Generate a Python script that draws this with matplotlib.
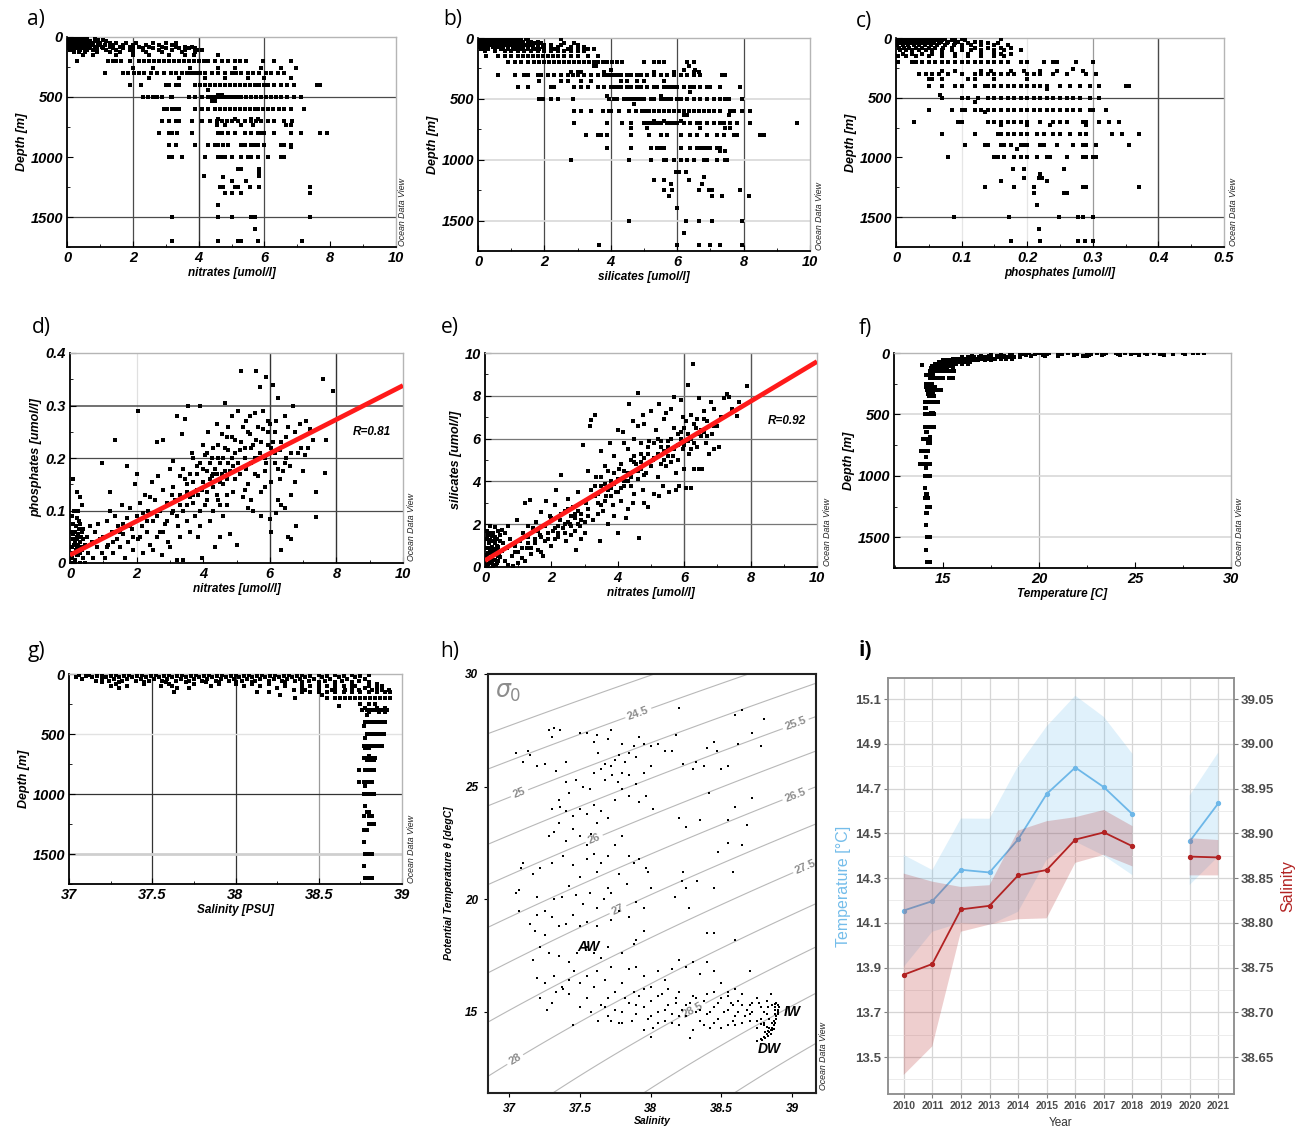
import numpy as np
import matplotlib
matplotlib.use('Agg')
import matplotlib.pyplot as plt
from matplotlib.ticker import MultipleLocator, FixedLocator

W, H = 1295, 1126

# ---------------- a) nitrates vs depth ----------------
a_depths = [5, 15, 25, 35, 50, 65, 80, 95, 110, 125, 150, 200, 260, 300, 340, 400, 440,
            480, 500, 530, 600, 680, 700, 730, 800, 900, 920, 1000, 1100, 1130, 1160, 1170,
            1200, 1250, 1300, 1400, 1500, 1600, 1700]
a_nitrates = [
    [0.02, 0.08, 0.15, 0.22, 0.3, 0.38, 0.45, 0.55],
    [0.03, 0.1, 0.18, 0.25, 0.33, 0.42, 0.5, 0.6, 0.85],
    [0.05, 0.12, 0.2, 0.28, 0.36, 0.45, 0.58, 0.95, 1.1],
    [0.02, 0.09, 0.17, 0.24, 0.32, 0.4, 0.52, 0.7, 0.9, 1.2],
    [0.04, 0.11, 0.19, 0.27, 0.35, 0.44, 0.55, 0.68, 0.8, 1.0, 1.3, 1.5, 1.8, 2.1, 2.6, 3.0, 3.3],
    [0.03, 0.1, 0.18, 0.26, 0.34, 0.46, 0.6, 0.75, 0.95, 1.15, 1.4, 1.7, 2.0, 2.4, 2.8, 3.2],
    [0.05, 0.13, 0.21, 0.3, 0.4, 0.52, 0.65, 0.85, 1.05, 1.3, 1.6, 1.9, 2.2, 2.5, 2.9, 3.3, 3.6, 3.8],
    [0.06, 0.15, 0.25, 0.35, 0.5, 0.7, 0.9, 1.1, 1.4, 1.7, 2.0, 2.3, 2.6, 3.0, 3.4, 3.7, 3.9],
    [0.1, 0.22, 0.4, 0.6, 0.8, 1.2, 1.5, 1.9, 2.3, 2.8, 3.2, 3.6, 3.95, 4.1],
    [0.2, 0.35, 0.55, 0.9, 1.3, 1.6, 2.0, 2.4, 2.9, 3.5, 3.9],
    [0.5, 0.8, 1.5, 2.0, 2.5, 3.1, 3.6, 3.85, 4.6],
    [0.3, 1.25, 1.4, 1.5, 1.65, 1.9, 2.2, 2.35, 2.5, 2.65, 2.8, 2.95, 3.1, 3.25, 3.4, 3.55, 3.7,
     3.85, 4.0, 4.15, 4.3, 4.5, 4.7, 4.9, 5.1, 5.25, 5.45, 5.95, 6.3, 6.8],
    [2.0, 2.6, 3.75, 4.6, 5.1, 5.9, 6.5, 6.95],
    [1.15, 1.7, 1.85, 2.05, 2.2, 2.35, 2.55, 2.75, 2.95, 3.15, 3.3, 3.5, 3.65, 3.75, 3.85, 3.95,
     4.05, 4.2, 4.4, 4.6, 4.8, 5.0, 5.15, 5.3, 5.5, 5.65, 5.85, 6.05, 6.2, 6.4, 6.6],
    [2.5, 3.4, 4.2, 4.8, 5.5, 6.0, 6.8],
    [1.9, 2.25, 3.0, 3.1, 3.3, 3.4, 3.9, 4.05, 4.2, 4.35, 4.5, 4.65, 4.8, 4.95, 5.1, 5.25, 5.4,
     5.55, 5.7, 5.85, 6.0, 6.1, 6.3, 6.5, 6.7, 6.9, 7.6, 7.7],
    [4.3],
    [4.6, 4.7],
    [2.3, 2.45, 2.6, 2.75, 2.9, 3.15, 3.2, 3.7, 3.9, 4.1, 4.3, 4.4, 4.5, 4.6, 4.7, 4.8, 4.9, 5.0,
     5.1, 5.2, 5.3, 5.45, 5.6, 5.75, 5.9, 6.05, 6.2, 6.35, 6.5, 6.7, 6.9, 7.1],
    [4.4, 4.5],
    [2.95, 3.05, 3.2, 3.3, 3.4, 3.9, 4.1, 4.3, 4.5, 4.65, 4.8, 4.95, 5.1, 5.25, 5.4, 5.55, 5.7,
     5.8, 5.95, 6.1, 6.25, 6.45, 6.6, 6.8, 7.2],
    [4.6, 5.1, 5.6, 5.8],
    [2.9, 3.1, 3.3, 3.4, 3.8, 4.1, 4.35, 4.55, 4.7, 4.85, 5.0, 5.2, 5.4, 5.6, 5.75, 5.9, 6.1,
     6.3, 6.6, 6.85],
    [4.55, 4.8, 5.3, 5.65, 6.65, 6.8],
    [2.8, 3.1, 3.2, 3.35, 3.8, 4.6, 4.7, 4.9, 5.1, 5.4, 5.6, 5.8, 5.9, 6.0, 6.3, 6.8, 7.1, 7.7, 7.9],
    [3.1, 3.3, 3.9, 4.3, 4.5, 4.6, 4.75, 4.9, 5.3, 5.4, 5.6, 5.7, 5.8, 6.0, 6.5, 6.6, 6.8],
    [6.8],
    [3.1, 3.2, 3.5, 4.2, 4.6, 4.7, 4.8, 5.0, 5.3, 5.5, 5.6, 5.8, 6.1, 6.5, 6.6],
    [5.2, 5.3, 5.85], [5.85], [4.15, 5.85], [4.75], [5.0, 5.45],
    [4.65, 4.75, 5.1, 5.2, 5.55, 5.85, 7.4], [4.8, 5.0, 5.3, 7.4], [4.6],
    [3.2, 4.6, 5.0, 5.6, 5.7, 7.4], [5.7], [3.2, 4.6, 5.2, 5.3, 5.8, 7.15],
]

# ---------------- b) silicates vs depth ----------------
b_depths = [5, 15, 30, 45, 60, 75, 90, 110, 150, 200, 230, 260, 280, 300, 350, 400, 440, 480,
            500, 540, 600, 630, 680, 700, 740, 800, 900, 930, 1000, 1100, 1140, 1170, 1200,
            1250, 1300, 1400, 1500, 1600, 1700]
b_silicates = [
    [0.05, 0.15, 0.25, 0.35, 0.45, 0.55, 0.65, 0.75, 0.85, 0.95, 1.05, 1.15, 1.3, 1.45, 2.5],
    [0.02, 0.12, 0.22, 0.32, 0.42, 0.52, 0.62, 0.72, 0.82, 0.92, 1.02, 1.12, 1.25, 1.5],
    [0.08, 0.18, 0.28, 0.38, 0.48, 0.58, 0.68, 0.78, 0.88, 0.98, 1.1, 1.2, 1.35, 1.6, 1.8],
    [0.05, 0.15, 0.25, 0.35, 0.45, 0.55, 0.65, 0.75, 0.85, 0.95, 1.05, 1.15, 1.3, 1.5, 1.7, 1.9,
     2.6, 2.9],
    [0.1, 0.2, 0.3, 0.4, 0.5, 0.6, 0.7, 0.8, 0.9, 1.0, 1.1, 1.25, 1.4, 1.6, 1.8, 2.0, 2.2, 2.5, 3.0],
    [0.05, 0.18, 0.3, 0.45, 0.6, 0.75, 0.9, 1.05, 1.2, 1.35, 1.5, 1.65, 1.8, 1.95, 2.2, 2.4, 2.8, 3.2],
    [0.1, 0.3, 0.5, 0.7, 0.9, 1.1, 1.3, 1.5, 1.7, 1.85, 2.0, 2.3, 2.7, 3.0, 3.3, 3.5],
    [0.2, 0.5, 0.8, 1.0, 1.2, 1.4, 1.6, 1.8, 2.0, 2.2, 2.4, 2.6, 2.8, 3.0, 3.2],
    [0.25, 0.6, 0.8, 1.0, 1.2, 1.35, 1.5, 1.65, 1.8, 1.95, 2.1, 2.25, 2.4, 2.6, 2.8, 3.0, 3.3, 3.6],
    [0.9, 1.1, 1.3, 1.5, 1.7, 1.85, 2.0, 2.15, 2.3, 2.45, 2.6, 2.75, 2.9, 3.05, 3.2, 3.35, 3.5,
     3.6, 3.75, 3.9, 4.05, 4.2, 4.35, 5.0, 5.3, 5.45, 5.6, 6.3, 6.5],
    [3.5, 3.55, 6.35],
    [4.0, 6.2, 6.55],
    [2.8, 3.0, 3.1, 3.8, 5.3, 5.9, 6.5, 6.65],
    [0.6, 1.1, 1.4, 1.5, 1.8, 1.9, 2.1, 2.3, 2.5, 2.7, 2.85, 3.0, 3.2, 3.4, 3.6, 3.8, 3.9, 4.0,
     4.1, 4.2, 4.3, 4.5, 4.6, 4.8, 4.9, 5.1, 5.3, 5.5, 5.7, 5.9, 6.1, 6.3, 6.5, 6.7, 7.35, 7.45],
    [1.85, 2.5, 2.7, 3.1, 3.4, 4.3, 4.5, 4.8, 5.0, 5.6],
    [1.2, 1.5, 2.2, 2.3, 2.9, 3.1, 3.3, 3.6, 3.8, 4.0, 4.1, 4.2, 4.3, 4.5, 4.6, 4.8, 4.9, 5.1,
     5.3, 5.4, 5.6, 5.7, 5.8, 5.9, 6.0, 6.2, 6.4, 6.5, 6.7, 6.9, 7.0, 7.3, 7.9],
    [6.4],
    [3.9, 5.5],
    [1.85, 1.95, 2.2, 2.4, 2.85, 3.95, 4.1, 4.2, 4.4, 4.5, 4.6, 4.7, 4.8, 4.9, 5.0, 5.2, 5.3,
     5.5, 5.6, 5.7, 5.8, 6.0, 6.1, 6.3, 6.5, 6.7, 6.9, 7.1, 7.3, 7.45, 7.55, 7.95],
    [4.7],
    [2.9, 3.1, 3.4, 3.75, 3.95, 4.0, 4.25, 4.55, 4.75, 4.95, 5.05, 5.15, 5.3, 5.45, 5.6, 5.75,
     5.9, 6.05, 6.2, 6.35, 6.5, 6.65, 6.8, 6.95, 7.1, 7.3, 7.6, 7.7, 7.95, 8.2],
    [6.2, 6.3, 7.55],
    [5.3, 5.6, 6.1],
    [2.9, 3.9, 4.35, 4.6, 5.0, 5.1, 5.2, 5.3, 5.4, 5.5, 5.7, 5.8, 5.9, 6.0, 6.2, 6.4, 6.6, 6.7,
     6.9, 7.1, 7.3, 7.4, 7.6, 7.8, 8.2, 9.6],
    [4.6, 5.1, 6.7, 7.45, 7.6],
    [3.25, 3.6, 3.7, 3.9, 4.6, 5.15, 5.5, 5.7, 6.1, 6.4, 6.6, 6.9, 7.2, 7.4, 7.7, 7.8, 8.5, 8.6],
    [3.9, 4.6, 5.2, 5.4, 5.5, 5.6, 6.1, 6.4, 6.6, 6.7, 6.8, 6.9, 7.0, 7.2, 7.3],
    [7.3, 7.45],
    [2.8, 4.55, 5.2, 5.6, 5.65, 5.9, 6.1, 6.3, 6.5, 6.8, 6.9, 7.2, 7.45, 7.5],
    [5.95, 6.05, 6.25], [6.8], [5.3, 5.6, 6.35], [5.8, 6.75],
    [5.6, 5.85, 6.65, 6.95, 7.05, 7.9], [5.75, 7.05, 7.35, 8.15], [6.0],
    [4.55, 6.25, 6.65, 7.05, 7.95], [6.2], [3.65, 6.0, 6.65, 7.0, 7.3, 7.95],
]

# ---------------- c) phosphates vs depth ----------------
c_depths = [5, 15, 30, 45, 60, 80, 100, 130, 150, 200, 260, 280, 300, 340, 400, 430, 480, 500,
            540, 600, 620, 700, 730, 800, 900, 930, 1000, 1100, 1140, 1170, 1200, 1250, 1300,
            1400, 1500, 1600, 1700]
c_phosphates = [
    [0.002, 0.008, 0.015, 0.022, 0.03, 0.038, 0.046, 0.055, 0.065, 0.075, 0.09, 0.1, 0.16],
    [0.004, 0.012, 0.02, 0.028, 0.036, 0.044, 0.052, 0.06, 0.07, 0.085, 0.105],
    [0.003, 0.01, 0.018, 0.026, 0.034, 0.042, 0.05, 0.058, 0.068, 0.08, 0.095, 0.12, 0.13],
    [0.005, 0.013, 0.021, 0.03, 0.038, 0.047, 0.056, 0.066, 0.078, 0.09, 0.11, 0.14, 0.155],
    [0.002, 0.01, 0.018, 0.027, 0.035, 0.044, 0.053, 0.063, 0.075, 0.088, 0.1, 0.115, 0.13, 0.15, 0.17],
    [0.004, 0.012, 0.02, 0.03, 0.04, 0.05, 0.06, 0.072, 0.085, 0.1, 0.12, 0.14, 0.16, 0.175],
    [0.006, 0.015, 0.025, 0.035, 0.045, 0.055, 0.07, 0.085, 0.1, 0.115, 0.13, 0.15, 0.165, 0.19],
    [0.01, 0.025, 0.04, 0.055, 0.07, 0.09, 0.11, 0.13, 0.15, 0.16, 0.175],
    [0.003, 0.015, 0.03, 0.05, 0.07, 0.09, 0.11, 0.13, 0.15, 0.165],
    [0.003, 0.025, 0.03, 0.04, 0.05, 0.06, 0.07, 0.08, 0.09, 0.1, 0.11, 0.12, 0.13, 0.14, 0.15,
     0.16, 0.17, 0.19, 0.2, 0.225, 0.24, 0.245, 0.275, 0.3],
    [0.27],
    [0.07, 0.09, 0.13, 0.145, 0.175, 0.195, 0.22, 0.245, 0.285],
    [0.035, 0.045, 0.055, 0.065, 0.08, 0.1, 0.12, 0.13, 0.14, 0.15, 0.16, 0.17, 0.18, 0.2, 0.21,
     0.22, 0.24, 0.26, 0.29, 0.305],
    [0.05, 0.055, 0.07, 0.11, 0.12, 0.15, 0.2],
    [0.05, 0.07, 0.09, 0.1, 0.12, 0.135, 0.14, 0.15, 0.16, 0.17, 0.18, 0.19, 0.2, 0.21, 0.22,
     0.23, 0.25, 0.265, 0.28, 0.295, 0.31, 0.35, 0.355],
    [0.23],
    [0.067],
    [0.07, 0.1, 0.11, 0.125, 0.14, 0.15, 0.16, 0.17, 0.18, 0.19, 0.2, 0.21, 0.22, 0.23, 0.24,
     0.25, 0.26, 0.27, 0.28, 0.295, 0.31],
    [0.12],
    [0.05, 0.085, 0.1, 0.105, 0.12, 0.13, 0.14, 0.15, 0.16, 0.17, 0.18, 0.19, 0.2, 0.21, 0.22,
     0.23, 0.24, 0.25, 0.26, 0.27, 0.28, 0.295, 0.3, 0.32],
    [0.135],
    [0.027, 0.095, 0.1, 0.14, 0.15, 0.16, 0.17, 0.18, 0.19, 0.2, 0.22, 0.24, 0.25, 0.26, 0.285,
     0.29, 0.31, 0.325, 0.34],
    [0.16, 0.2, 0.235, 0.29],
    [0.07, 0.12, 0.155, 0.16, 0.17, 0.18, 0.19, 0.2, 0.215, 0.225, 0.24, 0.25, 0.265, 0.28,
     0.29, 0.33, 0.345, 0.37],
    [0.105, 0.135, 0.14, 0.16, 0.165, 0.175, 0.19, 0.195, 0.2, 0.22, 0.225, 0.245, 0.27, 0.285,
     0.29, 0.305, 0.355],
    [0.185],
    [0.08, 0.15, 0.155, 0.165, 0.18, 0.19, 0.2, 0.215, 0.23, 0.235, 0.26, 0.285, 0.29, 0.3, 0.305],
    [0.178, 0.195, 0.256], [0.22], [0.195, 0.218, 0.222], [0.16, 0.23],
    [0.135, 0.18, 0.21, 0.285, 0.29, 0.37], [0.21, 0.256, 0.26], [0.215],
    [0.088, 0.172, 0.248, 0.278, 0.285, 0.3], [0.218], [0.175, 0.22, 0.278, 0.288, 0.3],
]

# ---------------- d) nitrates vs phosphates ----------------
d_points = [
    (0.05, 0.01), (0.1, 0.02), (0.15, 0.005), (0.2, 0.03), (0.25, 0.015), (0.3, 0.04),
    (0.08, 0.045), (0.12, 0.06), (0.18, 0.07), (0.22, 0.05), (0.28, 0.065), (0.35, 0.025),
    (0.4, 0.01), (0.45, 0.035), (0.05, 0.03), (0.1, 0.075), (0.15, 0.04), (0.2, 0.085),
    (0.25, 0.055), (0.3, 0.02), (0.35, 0.06), (0.4, 0.045), (0.03, 0.06), (0.07, 0.09),
    (0.13, 0.1), (0.1, 0.16), (0.2, 0.135), (0.3, 0.125), (0.35, 0.11), (0.25, 0.1),
    (0.5, 0.05), (0.55, 0.02), (0.6, 0.07), (0.65, 0.04), (0.7, 0.01), (0.75, 0.06),
    (0.8, 0.03), (0.85, 0.075), (0.9, 0.045), (0.95, 0.02), (0.05, 0.0), (0.15, 0.0),
    (0.3, 0.0), (0.45, 0.0), (0.18, 0.025), (0.26, 0.08), (0.33, 0.05), (0.12, 0.035),
    (1.0, 0.05), (1.05, 0.01), (1.1, 0.08), (1.15, 0.035), (1.2, 0.135), (1.25, 0.06),
    (1.3, 0.02), (1.35, 0.09), (1.4, 0.045), (1.45, 0.07), (1.5, 0.03), (1.55, 0.11),
    (1.6, 0.055), (1.65, 0.01), (1.7, 0.085), (1.75, 0.04), (1.8, 0.105), (1.85, 0.065),
    (1.9, 0.025), (1.95, 0.15), (2.0, 0.09), (2.05, 0.045), (2.1, 0.115), (2.15, 0.07),
    (2.2, 0.02), (2.25, 0.13), (2.3, 0.06), (2.35, 0.1), (2.4, 0.035), (2.45, 0.155),
    (2.5, 0.08), (2.55, 0.12), (2.6, 0.05), (2.65, 0.165), (2.7, 0.1), (2.75, 0.015),
    (2.8, 0.14), (2.85, 0.075), (2.9, 0.115), (2.95, 0.04), (3.0, 0.18), (3.05, 0.095),
    (1.35, 0.235), (2.05, 0.29), (0.95, 0.19), (1.7, 0.185), (2.0, 0.17), (2.4, 0.125),
    (2.6, 0.23), (2.8, 0.235), (3.1, 0.145), (1.2, 0.1), (1.6, 0.075), (1.9, 0.05),
    (2.2, 0.095), (2.5, 0.025), (2.7, 0.06), (3.0, 0.03), (3.2, 0.005), (3.4, 0.005),
    (3.1, 0.195), (3.15, 0.12), (3.2, 0.28), (3.25, 0.07), (3.3, 0.165), (3.35, 0.245),
    (3.4, 0.1), (3.45, 0.275), (3.5, 0.135), (3.55, 0.3), (3.6, 0.06), (3.65, 0.21),
    (3.7, 0.155), (3.75, 0.09), (3.8, 0.185), (3.85, 0.05), (3.9, 0.3), (3.95, 0.14),
    (4.0, 0.225), (4.05, 0.11), (4.1, 0.175), (4.15, 0.25), (4.2, 0.08), (4.25, 0.2),
    (4.3, 0.145), (4.35, 0.03), (4.4, 0.265), (4.45, 0.12), (4.5, 0.19), (4.55, 0.245),
    (4.6, 0.09), (4.65, 0.305), (4.7, 0.16), (4.75, 0.215), (4.8, 0.055), (4.85, 0.28),
    (4.9, 0.135), (4.95, 0.235), (5.0, 0.035), (3.2, 0.09), (3.4, 0.18), (3.6, 0.125),
    (3.8, 0.17), (4.0, 0.155), (4.2, 0.19), (4.4, 0.13), (4.6, 0.2), (4.8, 0.175),
    (3.3, 0.05), (3.5, 0.08), (3.7, 0.115), (3.9, 0.07), (4.1, 0.135), (4.3, 0.1),
    (4.5, 0.155), (4.7, 0.11), (4.9, 0.185), (3.05, 0.13), (3.45, 0.16), (3.85, 0.13),
    (4.25, 0.165), (4.65, 0.175), (4.95, 0.16), (4.05, 0.205), (4.45, 0.225), (4.85, 0.2),
    (3.95, 0.01), (4.5, 0.05), (4.75, 0.26), (4.4, 0.17), (4.6, 0.15), (4.7, 0.24),
    (5.05, 0.29), (5.1, 0.17), (5.15, 0.365), (5.2, 0.125), (5.25, 0.22), (5.3, 0.27),
    (5.35, 0.15), (5.4, 0.245), (5.45, 0.19), (5.5, 0.1), (5.55, 0.285), (5.6, 0.365),
    (5.65, 0.2), (5.7, 0.335), (5.75, 0.135), (5.8, 0.255), (5.85, 0.175), (5.9, 0.355),
    (5.95, 0.225), (6.0, 0.083), (6.05, 0.06), (6.1, 0.34), (6.15, 0.19), (6.2, 0.27),
    (6.25, 0.315), (6.3, 0.215), (6.35, 0.025), (6.4, 0.175), (6.45, 0.105), (6.5, 0.24),
    (6.55, 0.05), (6.6, 0.185), (6.65, 0.13), (6.7, 0.3), (6.75, 0.155), (6.8, 0.07),
    (6.85, 0.21), (6.9, 0.265), (6.95, 0.22), (7.0, 0.175), (7.1, 0.27), (7.2, 0.255),
    (7.3, 0.235), (7.4, 0.135), (7.4, 0.087), (7.6, 0.35), (7.7, 0.235), (7.65, 0.172),
    (7.9, 0.328), (5.1, 0.215), (5.3, 0.18), (5.5, 0.225), (5.7, 0.21), (5.9, 0.19),
    (6.1, 0.23), (6.3, 0.16), (6.5, 0.2), (5.2, 0.26), (5.4, 0.28), (5.6, 0.235),
    (5.8, 0.29), (6.0, 0.265), (5.25, 0.14), (5.45, 0.12), (5.65, 0.165), (5.85, 0.145),
    (6.05, 0.155), (6.25, 0.12), (6.45, 0.28), (6.65, 0.045), (6.75, 0.25), (7.05, 0.205),
    (7.15, 0.22), (5.35, 0.105), (5.75, 0.09), (6.2, 0.095), (6.35, 0.11), (5.55, 0.2),
    (5.95, 0.25), (6.15, 0.21),
    (3.6, 0.17), (3.7, 0.2), (3.8, 0.14), (3.9, 0.19), (4.0, 0.18), (4.1, 0.21), (4.2, 0.16),
    (4.3, 0.22), (4.35, 0.18), (4.45, 0.2), (4.55, 0.17), (4.65, 0.22), (4.75, 0.19),
    (4.85, 0.24), (4.95, 0.21), (5.05, 0.19), (5.15, 0.23), (5.25, 0.2), (5.35, 0.25),
    (5.45, 0.22), (5.55, 0.17), (5.65, 0.26), (5.75, 0.23), (5.85, 0.2), (5.95, 0.27),
    (6.05, 0.22), (6.15, 0.25), (6.25, 0.18), (6.35, 0.23), (6.45, 0.19), (6.55, 0.26),
    (6.65, 0.21), (3.3, 0.11), (3.5, 0.15), (3.7, 0.13), (3.9, 0.1), (4.1, 0.12), (4.3, 0.17),
    (4.5, 0.11), (4.7, 0.13), (2.9, 0.08), (3.1, 0.1), (3.3, 0.13), (3.5, 0.11), (2.6, 0.09),
    (2.8, 0.06), (2.3, 0.08), (2.1, 0.05), (1.8, 0.07), (1.5, 0.06), (1.3, 0.04), (1.1, 0.03),
    (0.2, 0.045), (0.3, 0.075), (0.1, 0.055), (0.4, 0.065), (0.25, 0.035), (0.15, 0.06),
    (0.22, 0.015), (0.32, 0.03),
]
d_fit = (0.015, 0.0323)      # intercept, slope
d_r = 'R=0.81'

# ---------------- e) nitrates vs silicates ----------------
e_points = [
    (0.05, 0.1), (0.1, 0.4), (0.15, 0.8), (0.2, 0.2), (0.25, 1.2), (0.3, 0.6), (0.35, 1.0),
    (0.4, 0.3), (0.45, 1.5), (0.5, 0.75), (0.05, 1.3), (0.1, 0.9), (0.15, 1.6), (0.2, 0.5),
    (0.25, 0.05), (0.3, 1.4), (0.35, 0.2), (0.4, 0.95), (0.45, 0.45), (0.5, 1.75),
    (0.55, 1.1), (0.6, 0.3), (0.08, 0.65), (0.12, 1.1), (0.18, 0.35), (0.22, 1.45),
    (0.28, 0.85), (0.32, 0.1), (0.38, 1.7), (0.42, 0.6), (0.05, 1.7), (0.15, 1.9),
    (0.3, 1.85), (0.65, 0.9), (0.7, 0.1), (0.75, 1.3), (0.8, 0.5), (0.85, 0.05), (0.9, 1.0),
    (0.95, 2.2), (1.0, 0.7), (0.6, 1.6), (0.7, 1.9), (0.1, 0.15), (0.2, 0.95), (0.3, 0.35),
    (0.15, 1.25), (0.25, 0.65), (0.35, 1.3), (0.05, 0.55),
    (1.05, 1.2), (1.1, 0.4), (1.15, 1.6), (1.2, 3.0), (1.25, 0.9), (1.3, 1.4), (1.35, 3.15),
    (1.4, 0.6), (1.45, 1.8), (1.5, 1.1), (1.55, 2.1), (1.6, 0.8), (1.65, 1.5), (1.7, 2.55),
    (1.75, 0.5), (1.8, 1.9), (1.85, 3.1), (1.9, 1.3), (1.95, 2.4), (2.0, 1.0), (2.05, 1.7),
    (2.1, 2.9), (2.15, 3.6), (2.2, 1.4), (2.25, 2.2), (2.3, 4.3), (2.35, 1.8), (2.4, 2.6),
    (2.45, 1.2), (2.5, 3.2), (2.55, 2.0), (2.6, 1.5), (2.65, 2.8), (2.7, 2.3), (2.75, 0.8),
    (2.8, 3.5), (2.85, 1.9), (2.9, 2.5), (2.95, 5.7), (3.0, 2.1), (1.2, 0.3), (1.4, 0.9),
    (1.6, 1.7), (1.8, 1.2), (2.0, 2.3), (2.2, 1.9), (2.4, 1.6), (2.6, 2.4), (2.8, 2.0),
    (3.0, 1.6), (1.0, 0.2), (1.3, 1.9), (1.7, 0.7), (2.1, 1.3), (2.5, 2.7), (2.9, 1.3),
    (2.3, 2.5), (2.7, 1.7),
    (3.05, 3.0), (3.1, 2.4), (3.15, 6.6), (3.2, 6.85), (3.25, 2.2), (3.3, 7.1), (3.35, 4.2),
    (3.4, 3.0), (3.45, 1.2), (3.5, 3.8), (3.55, 2.6), (3.6, 4.7), (3.65, 3.3), (3.7, 2.0),
    (3.75, 5.8), (3.8, 4.0), (3.85, 2.9), (3.9, 5.2), (3.95, 3.5), (4.0, 1.6), (4.05, 4.6),
    (4.1, 3.1), (4.15, 6.3), (4.2, 3.8), (4.25, 2.3), (4.3, 5.5), (4.35, 7.6), (4.4, 4.2),
    (4.45, 3.0), (4.5, 6.0), (4.55, 4.8), (4.6, 8.15), (4.65, 1.35), (4.7, 5.3), (4.75, 3.6),
    (4.8, 6.7), (4.85, 4.4), (4.9, 2.8), (4.95, 5.9), (5.0, 7.3), (3.2, 3.6), (3.4, 2.5),
    (3.6, 3.9), (3.8, 3.3), (4.0, 4.1), (4.2, 4.5), (4.4, 5.0), (4.6, 4.1), (4.8, 5.1),
    (3.3, 3.3), (3.5, 2.9), (3.7, 3.6), (3.9, 4.4), (4.1, 3.7), (4.3, 4.0), (4.5, 3.4),
    (4.7, 4.6), (4.9, 5.6), (3.1, 4.5), (3.5, 5.4), (4.0, 6.4), (4.2, 5.8), (4.6, 6.6),
    (4.8, 3.0), (3.9, 2.4), (4.3, 2.7), (4.45, 6.8), (4.75, 7.1), (4.5, 4.9), (4.7, 5.8),
    (5.05, 5.0), (5.1, 3.4), (5.15, 6.4), (5.2, 4.2), (5.25, 7.6), (5.3, 5.6), (5.35, 3.8),
    (5.4, 6.9), (5.45, 4.7), (5.5, 5.9), (5.55, 3.5), (5.6, 7.4), (5.65, 5.2), (5.7, 7.95),
    (5.75, 4.4), (5.8, 6.2), (5.85, 3.8), (5.9, 7.8), (5.95, 5.5), (6.0, 4.6), (6.05, 6.8),
    (6.1, 8.5), (6.15, 5.3), (6.2, 7.1), (6.25, 9.5), (6.3, 4.6), (6.35, 6.5), (6.4, 5.6),
    (6.45, 7.9), (6.5, 6.1), (6.55, 4.6), (6.6, 7.3), (6.65, 5.8), (6.7, 6.8), (6.75, 5.3),
    (6.8, 7.7), (6.85, 6.2), (6.9, 7.4), (7.0, 6.6), (7.05, 5.6), (7.1, 7.0), (7.2, 7.9),
    (7.3, 8.1), (7.35, 7.95), (7.45, 7.4), (7.6, 7.05), (7.65, 7.7), (7.9, 8.45), (5.1, 5.8),
    (5.3, 4.8), (5.5, 5.2), (5.7, 6.5), (5.9, 6.0), (6.1, 5.9), (6.3, 6.7), (5.2, 6.0),
    (5.4, 5.4), (5.6, 4.9), (5.8, 5.0), (6.0, 5.7), (6.2, 5.5), (6.4, 6.9), (6.6, 6.3),
    (6.2, 3.7), (6.05, 3.7), (5.25, 3.3), (5.75, 3.6), (6.45, 4.6), (5.95, 7.0), (5.45, 7.2),
    (6.9, 5.5),
    (3.5, 4.2), (3.7, 4.5), (3.9, 3.9), (4.1, 4.8), (4.3, 4.4), (4.5, 5.2), (4.7, 4.9),
    (4.9, 5.3), (5.1, 5.1), (5.3, 5.9), (5.5, 5.6), (5.7, 5.5), (5.9, 6.3), (6.1, 6.2),
    (6.3, 5.8), (6.5, 6.4), (6.7, 6.1), (6.9, 6.6), (3.3, 3.8), (3.4, 3.4), (3.6, 3.1),
    (3.8, 3.7), (4.0, 3.5), (4.2, 4.0), (4.4, 3.8), (4.6, 4.5), (4.8, 4.3), (5.0, 4.7),
    (5.2, 5.3), (5.4, 5.0), (5.6, 6.0), (5.8, 5.7), (6.0, 6.5), (6.2, 6.0), (6.4, 6.2),
    (6.6, 6.9), (2.5, 2.1), (2.7, 2.5), (2.9, 2.2), (3.1, 2.7), (2.2, 1.6), (2.4, 2.0),
    (2.6, 1.9), (2.8, 2.6), (1.9, 1.6), (2.1, 1.8), (1.7, 1.4), (1.5, 1.3), (1.3, 1.1),
    (1.1, 0.9), (0.9, 0.7), (0.2, 0.7), (0.3, 1.1), (0.4, 0.5), (0.1, 1.5), (0.25, 1.6),
    (0.35, 0.8), (0.45, 1.2), (0.15, 0.3), (0.05, 0.9),
]
e_fit = (0.3, 0.93)
e_r = 'R=0.92'

# ---------------- f) temperature vs depth ----------------
f_depths = [3, 8, 15, 25, 35, 45, 60, 75, 90, 100, 105, 120, 150, 180, 200, 250, 280, 300, 330,
            350, 400, 450, 490, 500, 600, 640, 680, 700, 730, 800, 850, 900, 940, 1000, 1100,
            1150, 1180, 1250, 1300, 1400, 1500, 1600, 1700]
f_temps = [
    [19.0, 19.5, 20.0, 20.5, 21.0, 21.5, 22.0, 22.5, 23.0, 23.5, 24.0, 24.5, 25.0, 25.5, 26.0,
     26.5, 27.0, 27.5, 28.0, 28.3, 28.6],
    [18.5, 19.2, 19.8, 20.4, 21.2, 22.0, 22.7, 23.4, 24.1, 24.8, 25.6, 26.3, 27.0, 27.6],
    [17.5, 18.0, 18.6, 19.3, 20.2, 21.0, 21.8, 22.6, 23.3, 24.2, 25.2, 26.5],
    [16.5, 17.0, 17.4, 17.8, 18.2, 18.6, 19.0, 19.6, 20.3, 21.0, 22.3, 22.5],
    [16.0, 16.3, 16.6, 16.9, 17.2, 17.5, 17.8, 18.1, 18.4, 18.7, 19.0],
    [15.5, 15.7, 15.9, 16.1, 16.3, 16.5, 16.7, 16.9, 17.1, 17.4, 17.7, 18.0, 18.3, 18.6],
    [15.0, 15.2, 15.4, 15.6, 15.8, 16.0, 16.2, 16.4, 16.6, 16.8, 17.2, 17.5],
    [14.8, 14.9, 15.0, 15.1, 15.3, 15.5, 15.7, 15.9, 16.1, 16.4],
    [14.6, 14.7, 14.85, 15.0, 15.15, 15.3, 15.5, 15.7, 16.0, 16.3],
    [13.9],
    [14.45, 14.6, 14.75, 14.9, 15.05, 15.2, 15.4],
    [14.4, 14.5, 14.6, 14.75, 14.9, 15.05, 15.2, 15.5],
    [14.35, 14.45, 14.55, 14.7, 14.85, 15.0, 15.2, 15.4, 15.55],
    [14.1, 14.35, 14.5],
    [14.3, 14.4, 14.5, 14.6, 14.75, 14.9, 15.0, 15.3, 15.5],
    [14.1, 14.2, 14.3, 14.45],
    [14.1, 14.25, 14.35, 14.5, 14.6],
    [14.15, 14.3, 14.4, 14.5, 14.6, 14.7, 14.8, 14.9],
    [14.2, 14.35, 14.5],
    [14.25, 14.4, 14.55],
    [14.05, 14.15, 14.25, 14.35, 14.45, 14.55, 14.65, 14.75],
    [14.05, 14.1],
    [14.4, 14.5],
    [14.05, 14.15, 14.25, 14.35, 14.45, 14.5, 14.55],
    [14.05, 14.15, 14.2, 14.3, 14.45, 14.55],
    [14.1, 14.15],
    [14.3],
    [13.95, 14.05, 14.1, 14.2, 14.25, 14.3, 14.35],
    [14.2, 14.25, 14.35],
    [13.85, 13.95, 14.0, 14.05, 14.1, 14.2],
    [14.1],
    [13.8, 13.95, 14.05, 14.1, 14.2, 14.3],
    [14.1],
    [14.05, 14.1, 14.15, 14.2, 14.3],
    [14.05], [14.1, 14.15], [14.05, 14.1, 14.2], [14.15, 14.3], [14.1, 14.15], [14.1],
    [14.15, 14.2, 14.3], [14.1], [14.15, 14.2, 14.25, 14.3],
]

# ---------------- g) salinity vs depth ----------------
g_depths = [5, 15, 25, 40, 55, 70, 85, 100, 115, 130, 150, 175, 200, 250, 270, 280, 300, 320,
            340, 400, 430, 500, 530, 600, 620, 680, 700, 720, 800, 900, 930, 1000, 1100, 1150,
            1180, 1250, 1300, 1400, 1500, 1600, 1700]
g_salinity = [
    [37.06, 37.12, 37.2, 37.28, 37.36, 37.44, 37.52, 37.6, 37.68, 37.76, 37.84, 37.92, 38.0,
     38.08, 38.16, 38.24, 38.32, 38.4, 38.5, 38.6, 38.7, 38.8],
    [37.1, 37.17, 37.25, 37.33, 37.41, 37.49, 37.57, 37.65, 37.73, 37.81, 37.89, 37.97, 38.05,
     38.13, 38.21, 38.29, 38.37, 38.45, 38.55, 38.65, 38.75],
    [37.04, 37.14, 37.22, 37.3, 37.38, 37.46, 37.54, 37.62, 37.7, 37.78, 37.86, 37.94, 38.02,
     38.1, 38.18, 38.26, 38.34, 38.42, 38.52, 38.62, 38.72],
    [37.08, 37.2, 37.27, 37.35, 37.43, 37.51, 37.59, 37.67, 37.75, 37.83, 37.91, 37.99, 38.07,
     38.15, 38.23, 38.31, 38.39, 38.47, 38.57, 38.67, 38.78],
    [37.16, 37.24, 37.32, 37.4, 37.48, 37.56, 37.64, 37.72, 37.8, 37.88, 37.96, 38.04, 38.12,
     38.2, 38.28, 38.36, 38.44, 38.54, 38.64, 38.74],
    [37.2, 37.3, 37.45, 37.58, 37.7, 37.82, 37.9, 38.0, 38.1, 38.2, 38.3, 38.4, 38.5, 38.6,
     38.7, 38.8],
    [37.28, 37.45, 37.6, 37.75, 37.9, 38.0, 38.1, 38.2, 38.3, 38.4, 38.5, 38.6, 38.7, 38.8, 38.85],
    [37.25, 37.35, 37.55, 37.62, 37.85, 38.05, 38.15, 38.3, 38.45, 38.55, 38.65, 38.72, 38.8, 38.88],
    [37.3, 37.65, 37.72, 38.25, 38.4, 38.5, 38.6, 38.7, 38.78, 38.85],
    [38.35, 38.42, 38.5, 38.58, 38.66, 38.74, 38.82, 38.88, 38.92],
    [37.63, 38.13, 38.2, 38.4, 38.45, 38.5, 38.55, 38.6, 38.65, 38.7, 38.75, 38.8, 38.85, 38.9, 38.93],
    [38.27, 38.52],
    [38.36, 38.55, 38.6, 38.63, 38.66, 38.69, 38.72, 38.75, 38.78, 38.81, 38.84, 38.87, 38.9, 38.93],
    [38.75, 38.8, 38.84],
    [38.62],
    [38.78, 38.85, 38.9],
    [38.76, 38.79, 38.81, 38.83, 38.85, 38.87, 38.89, 38.91],
    [38.8, 38.86, 38.9],
    [38.79],
    [38.78, 38.8, 38.82, 38.84, 38.86, 38.88, 38.9],
    [38.77],
    [38.79, 38.81, 38.83, 38.85, 38.87, 38.89],
    [38.78],
    [38.77, 38.79, 38.8, 38.81, 38.82, 38.84, 38.86, 38.88],
    [38.78, 38.8],
    [38.8],
    [38.77, 38.78, 38.79, 38.8, 38.81, 38.82, 38.83, 38.84],
    [38.79, 38.81, 38.83],
    [38.74, 38.78, 38.8, 38.81, 38.82, 38.83],
    [38.74, 38.77, 38.78, 38.8, 38.81, 38.82],
    [38.78],
    [38.77, 38.79, 38.8, 38.81, 38.82, 38.83],
    [38.78], [38.79, 38.8], [38.77, 38.8, 38.82], [38.8, 38.82, 38.83], [38.77, 38.79],
    [38.77], [38.78, 38.8, 38.82], [38.77], [38.78, 38.8, 38.82],
]

# ---------------- h) T-S diagram ----------------
h_points = [
    (37.05, 26.5), (37.1, 26.1), (37.13, 26.6), (37.15, 26.4), (37.28, 27.5), (37.32, 27.6),
    (37.3, 27.2), (37.36, 27.5), (37.2, 25.9), (37.25, 26.0), (37.33, 25.7), (37.4, 26.1),
    (37.55, 27.4), (37.6, 27.0), (37.62, 27.3), (37.72, 27.5), (37.7, 27.1), (37.8, 26.9),
    (37.88, 26.8), (37.92, 27.2), (37.95, 26.9), (38.0, 26.8), (38.05, 26.9), (38.1, 26.6),
    (38.2, 28.5), (38.18, 27.3), (38.15, 26.6), (38.23, 26.0), (38.3, 25.8), (38.32, 26.1),
    (38.38, 25.9), (38.4, 26.7), (38.45, 27.0), (38.47, 26.6), (38.55, 25.9), (38.6, 28.2),
    (38.65, 28.4), (38.8, 28.0), (38.72, 27.4), (38.78, 26.8), (38.62, 26.9), (38.5, 25.8),
    (38.41, 24.7), (38.72, 24.5), (38.6, 24.1), (38.55, 23.5), (38.68, 23.3), (38.65, 22.4),
    (38.48, 22.1), (38.55, 22.5), (38.58, 21.2), (38.35, 23.5), (38.2, 23.6), (38.25, 23.2),
    (38.45, 20.5), (38.23, 21.2), (38.22, 20.8), (38.17, 20.1), (38.27, 19.6), (38.4, 18.5),
    (38.45, 18.5), (38.6, 18.2), (38.25, 20.5), (38.33, 20.8),
    (37.5, 27.4), (37.63, 26.5), (37.68, 26.0), (37.72, 25.9), (37.75, 26.2), (37.78, 26.4),
    (37.82, 26.1), (37.85, 25.5), (37.9, 26.3), (37.85, 26.5), (37.8, 25.6), (37.77, 25.2),
    (37.73, 25.5), (37.68, 25.3), (37.65, 25.8), (37.6, 25.6), (37.57, 24.9), (37.52, 25.0),
    (37.47, 25.3), (37.42, 24.7), (37.4, 25.2), (37.36, 24.1), (37.3, 24.0), (37.35, 24.4),
    (37.4, 23.9), (37.45, 23.7), (37.5, 24.0), (37.55, 23.8), (37.6, 24.2), (37.65, 23.9),
    (37.7, 23.6), (37.75, 24.4), (37.8, 24.9), (37.85, 24.6), (37.9, 25.1), (37.95, 25.6),
    (38.0, 25.9), (37.92, 24.3), (37.97, 24.6), (38.02, 24.0), (37.62, 23.4), (37.58, 22.9),
    (37.55, 22.4), (37.5, 22.8), (37.45, 23.1), (37.4, 22.6), (37.35, 23.4), (37.32, 23.0),
    (37.28, 22.8), (37.6, 22.0), (37.65, 21.6), (37.7, 21.9), (37.75, 22.4), (37.8, 22.8),
    (37.85, 21.9), (37.88, 21.6), (37.92, 21.8), (37.97, 21.4), (38.0, 20.5), (37.98, 21.2),
    (37.7, 20.5), (37.72, 20.3), (37.67, 20.0), (37.62, 19.6), (37.57, 20.3), (37.52, 19.8),
    (37.47, 20.2), (37.42, 20.6), (37.37, 20.1), (37.32, 20.0), (37.25, 19.5), (37.2, 20.1),
    (37.07, 20.4), (37.05, 20.3), (37.07, 19.5), (37.08, 21.4), (37.1, 21.6), (37.17, 21.1),
    (37.22, 21.4), (37.3, 21.6), (37.38, 21.9), (37.45, 21.5), (37.5, 21.0), (37.55, 21.8),
    (37.62, 21.2), (37.78, 21.1), (37.83, 20.7), (37.9, 19.9), (37.95, 19.6), (37.85, 19.2),
    (37.78, 19.5), (37.72, 19.1), (37.62, 18.8), (37.55, 19.0), (37.5, 18.8), (37.45, 19.3),
    (37.4, 18.9), (37.35, 18.8), (37.3, 19.2), (37.25, 18.4), (37.18, 18.6), (37.15, 18.9),
    (37.2, 19.3), (37.9, 18.2), (37.95, 18.6), (37.88, 18.0), (37.8, 17.6), (37.7, 17.9),
    (37.65, 17.4), (37.6, 17.6), (37.55, 17.9), (37.48, 17.6), (37.42, 17.2), (37.35, 17.5),
    (37.28, 17.6), (37.22, 17.9), (37.17, 17.3), (37.2, 16.5), (37.25, 16.3), (37.32, 16.6),
    (37.37, 16.1), (37.42, 16.4), (37.46, 16.8), (37.5, 16.3), (37.55, 16.6), (37.27, 15.1),
    (37.22, 15.6), (37.3, 15.4), (37.45, 14.4), (37.5, 15.2), (37.55, 15.6), (37.42, 15.8),
    (37.38, 16.0), (37.33, 15.9), (37.65, 15.3), (37.6, 16.1), (37.58, 15.0), (37.63, 14.6),
    (37.7, 15.6), (37.75, 15.9), (37.8, 16.3), (37.85, 16.9), (37.9, 17.0), (37.95, 16.6),
    (38.0, 16.1), (38.05, 16.8), (38.1, 16.4), (38.15, 16.9), (38.2, 17.3), (38.25, 17.0),
    (38.3, 17.2), (38.35, 16.7), (38.4, 17.2), (38.45, 16.8), (38.5, 16.3), (38.55, 15.9),
    (38.6, 16.0), (38.7, 16.8), (38.85, 15.8), (37.68, 16.4), (37.72, 17.0), (37.62, 16.8),
    (37.7, 14.8), (37.75, 15.1), (37.8, 14.5), (37.85, 15.4), (37.9, 14.9), (37.92, 15.7),
    (37.95, 15.2), (37.98, 14.7), (38.0, 15.5), (38.02, 14.3), (38.05, 15.0), (38.08, 15.8),
    (38.1, 14.6), (38.12, 15.3), (38.15, 14.9), (38.18, 15.6), (38.2, 14.4), (38.22, 15.1),
    (38.25, 14.8), (38.28, 15.4), (38.3, 14.2), (38.32, 15.0), (38.35, 14.6), (38.38, 15.5),
    (38.4, 14.9), (38.42, 14.3), (38.45, 15.2), (38.48, 14.7), (38.5, 15.6), (38.52, 15.0),
    (38.55, 14.4), (38.58, 15.3), (38.6, 14.8), (38.62, 15.5), (38.65, 14.5), (38.68, 15.1),
    (38.7, 14.9), (38.72, 15.4), (38.75, 14.6), (38.78, 15.2), (38.8, 15.0), (38.82, 15.5),
    (38.84, 14.7), (38.86, 15.3), (38.88, 15.1), (37.95, 14.2), (38.0, 13.9), (38.28, 13.85),
    (37.78, 14.5), (37.88, 15.9), (37.95, 16.0), (38.05, 15.7), (38.12, 16.0), (38.2, 15.9),
    (38.3, 15.7), (38.4, 15.8), (38.45, 15.9), (38.55, 15.7), (38.65, 15.8), (38.75, 15.6),
    (37.82, 15.6), (37.9, 15.3), (38.0, 14.8), (38.1, 15.1), (38.15, 14.5), (38.25, 15.3),
    (38.35, 15.1), (38.45, 14.5), (38.55, 15.1), (38.6, 14.4), (38.7, 14.6), (38.8, 14.5),
    (37.72, 14.6), (37.8, 15.0), (38.05, 14.5), (38.2, 14.8), (38.38, 14.4), (38.5, 14.3),
    (38.65, 15.3), (38.75, 14.3), (37.68, 15.2), (37.87, 14.6), (38.18, 15.4), (38.32, 15.6),
    (38.48, 15.4), (38.58, 14.6), (38.72, 15.0), (38.82, 14.9), (38.62, 15.0), (38.67, 14.8),
    (38.77, 15.4), (38.83, 15.2), (38.7, 15.3), (38.78, 14.7), (38.57, 15.4), (38.42, 15.0),
    (38.75, 13.7), (38.78, 13.8), (38.8, 13.9), (38.82, 14.0), (38.84, 14.1), (38.85, 14.2),
    (38.86, 14.3), (38.87, 14.4), (38.88, 14.5), (38.89, 14.7), (38.9, 14.9), (38.9, 15.1),
    (38.88, 15.2), (38.86, 14.2), (38.84, 14.3), (38.82, 14.35), (38.8, 14.4), (38.78, 14.45),
    (38.87, 14.6), (38.89, 14.8), (38.9, 15.0), (38.88, 14.9), (38.86, 14.5), (38.85, 14.0),
    (38.83, 13.95), (38.81, 13.85), (38.79, 13.75), (38.91, 15.2), (38.9, 15.3),
    (38.89, 15.4), (38.88, 15.35), (38.87, 14.25), (38.83, 14.15), (38.81, 14.1),
]
h_sigma_levels = [24.0, 24.5, 25.0, 25.5, 26.0, 26.5, 27.0, 27.5, 28.0, 28.5, 29.0, 29.5, 30.0]
h_label_spots = [(37.9, 28.5), (37.08, 24.6), (39.02, 27.9), (37.6, 22.7), (39.02, 24.7),
                 (37.75, 19.8), (39.1, 21.4), (37.07, 12.6), (38.3, 15.1)]
h_water = [('AW', 37.48, 17.9), ('IW', 38.94, 15.0), ('DW', 38.76, 13.35)]

# ---------------- i) yearly temperature and salinity ----------------
years = [2010, 2011, 2012, 2013, 2014, 2015, 2016, 2017, 2018, 2019, 2020, 2021]
temp_mean = [14.155, 14.197, 14.337, 14.325, 14.473, 14.676, 14.794, 14.706, 14.585, np.nan, 14.464, 14.634]
temp_high = [14.403, 14.336, 14.566, 14.565, 14.80, 14.978, 15.115, 15.02, 14.855, np.nan, 14.669, 14.861]
temp_low = [13.903, 14.06, 14.10, 14.09, 14.149, 14.381, 14.463, 14.40, 14.313, np.nan, 14.269, 14.396]
sal_mean = [38.742, 38.754, 38.815, 38.819, 38.853, 38.859, 38.893, 38.901, 38.8855, np.nan, 38.874, 38.873]
sal_high = [38.855, 38.846, 38.840, 38.842, 38.903, 38.9135, 38.918, 38.926, 38.908, np.nan, 38.8945, 38.8925]
sal_low = [38.630, 38.662, 38.790, 38.798, 38.804, 38.805, 38.867, 38.876, 38.863, np.nan, 38.853, 38.853]

plt.rcParams['font.family'] = ['Liberation Sans', 'DejaVu Sans']
fig = plt.figure(figsize=(W / 100, H / 100), dpi=100)

BI = dict(fontweight='bold', fontstyle='italic')


def px_axes(x0, y0, x1, y1):
    return fig.add_axes([x0 / W, 1 - y1 / H, (x1 - x0) / W, (y1 - y0) / H])


def flatten(levels, rows):
    xs, ys = [], []
    for lev, row in zip(levels, rows):
        xs += row
        ys += [lev] * len(row)
    return np.array(xs), np.array(ys)


def odv_axes(box, xlim, ylim, xticks, yticks, xminor, yminor, xlabel, ylabel,
             vlines=(), hlines=(), tick_size=10.5):
    ax = px_axes(*box)
    ax.set_xlim(xlim)
    ax.set_ylim(ylim)
    ax.set_xticks(xticks)
    ax.set_xticklabels(['%g' % v for v in xticks], fontsize=tick_size, **BI)
    ax.set_yticks(yticks)
    ax.set_yticklabels(['%g' % v for v in yticks], fontsize=tick_size, **BI)
    ax.xaxis.set_minor_locator(MultipleLocator(xminor))
    ax.yaxis.set_minor_locator(MultipleLocator(yminor))
    ax.tick_params(which='major', direction='in', length=4, width=0.8, pad=3)
    ax.tick_params(which='minor', direction='in', length=2, width=0.6)
    ax.set_xlabel(xlabel, fontsize=8.5, labelpad=1, **BI)
    ax.set_ylabel(ylabel, fontsize=9, labelpad=2, **BI)
    for v, c, lw in vlines:
        ax.axvline(v, color=c, lw=lw, zorder=0.5)
    for v, c, lw in hlines:
        ax.axhline(v, color=c, lw=lw, zorder=0.5)
    for s in ('left', 'bottom'):
        ax.spines[s].set_color('black')
        ax.spines[s].set_linewidth(1.3)
    for s in ('top', 'right'):
        ax.spines[s].set_color('#B5B5B5')
        ax.spines[s].set_linewidth(1.0)
    return ax


def odv_mark(x, y_bottom):
    fig.text(x / W, 1 - y_bottom / H, 'Ocean Data View', rotation=90, ha='center',
             va='bottom', fontsize=6.3, fontstyle='italic', color='#222222')


def panel_letter(txt, x, y, bold=False):
    fig.text(x / W, 1 - y / H, txt, ha='center', va='center', fontsize=15,
             family='Open Sans', fontweight='bold' if bold else 'normal')


DARK, MID, LIGHT = '#4A4A4A', '#9A9A9A', '#D8D8D8'
dot = dict(s=6, c='black', marker='s', linewidths=0, zorder=3)

# a)
ax = odv_axes((67, 37, 396, 247), (0, 10), (1750, 0), [0, 2, 4, 6, 8, 10],
              [0, 500, 1000, 1500], 1, 250, 'nitrates [umol/l]', 'Depth [m]',
              vlines=[(2, DARK, 0.9), (4, '#333333', 1.0), (6, DARK, 0.9)],
              hlines=[(500, DARK, 0.9), (1500, DARK, 0.9)])
x, y = flatten(a_depths, a_nitrates)
ax.scatter(x, y, **dot)
odv_mark(403, 246)
panel_letter('a)', 36, 20)

# b)
ax = odv_axes((478, 38, 810, 251), (0, 10), (1750, 0), [0, 2, 4, 6, 8, 10],
              [0, 500, 1000, 1500], 1, 250, 'silicates [umol/l]', 'Depth [m]',
              vlines=[(2, DARK, 0.9), (4, DARK, 0.9), (6, DARK, 0.9), (8, DARK, 0.9)],
              hlines=[(500, LIGHT, 1.2), (1000, LIGHT, 1.2), (1500, LIGHT, 1.2)])
x, y = flatten(b_depths, b_silicates)
ax.scatter(x, y, **dot)
odv_mark(819, 250)
panel_letter('b)', 453, 20)

# c)
ax = odv_axes((896, 38, 1224, 247), (0, 0.5), (1750, 0), [0, 0.1, 0.2, 0.3, 0.4, 0.5],
              [0, 500, 1000, 1500], 0.05, 250, 'phosphates [umol/l]', 'Depth [m]',
              vlines=[(0.1, '#E6E6E6', 0.9), (0.2, '#E6E6E6', 0.9), (0.3, MID, 0.9),
                      (0.4, DARK, 1.0)],
              hlines=[(500, DARK, 0.9), (1500, DARK, 0.9)])
x, y = flatten(c_depths, c_phosphates)
ax.scatter(x, y, **dot)
odv_mark(1233, 246)
panel_letter('c)', 864, 21)

# d)
ax = odv_axes((70, 353, 403, 563), (0, 10), (0, 0.4), [0, 2, 4, 6, 8, 10],
              [0, 0.1, 0.2, 0.3, 0.4], 1, 0.05, 'nitrates [umol/l]', 'phosphates [umol/l]',
              vlines=[(2, '#E0E0E0', 0.9), (6, '#333333', 1.0), (8, '#333333', 1.0)],
              hlines=[(0.1, DARK, 0.9), (0.2, DARK, 0.9), (0.3, DARK, 1.1)])
pts = np.array(d_points)
ax.scatter(pts[:, 0], pts[:, 1], **dot)
xx = np.array([0, 10])
ax.plot(xx, d_fit[0] + d_fit[1] * xx, color='#FF1A1A', lw=3.4, zorder=4, solid_capstyle='butt')
ax.text(9.07, 0.25, d_r, ha='center', va='center', fontsize=8.5, **BI)
odv_mark(412, 561)
panel_letter('d)', 41, 327)

# e)
ax = odv_axes((485, 353, 817, 567), (0, 10), (0, 10), [0, 2, 4, 6, 8, 10],
              [0, 2, 4, 6, 8, 10], 1, 1, 'nitrates [umol/l]', 'silicates [umol/l]',
              vlines=[(6, '#555555', 1.0), (8, '#555555', 1.0)],
              hlines=[(2, '#777777', 0.9), (4, '#777777', 0.9), (6, '#777777', 0.9),
                      (8, '#777777', 0.9)])
pts = np.array(e_points)
ax.scatter(pts[:, 0], pts[:, 1], **dot)
ax.plot(xx, e_fit[0] + e_fit[1] * xx, color='#FF1A1A', lw=3.4, zorder=4, solid_capstyle='butt')
ax.text(9.1, 6.8, e_r, ha='center', va='center', fontsize=8.5, **BI)
odv_mark(827, 566)
panel_letter('e)', 450, 328)

# f)
ax = odv_axes((894, 353, 1231, 568), (12.45, 30), (1750, 0), [15, 20, 25, 30],
              [0, 500, 1000, 1500], 2.5, 250, 'Temperature [C]', 'Depth [m]',
              vlines=[(20, '#AFAFAF', 0.9)],
              hlines=[(500, LIGHT, 1.2), (1000, LIGHT, 1.2), (1500, LIGHT, 1.2)])
x, y = flatten(f_depths, f_temps)
ax.scatter(x, y, **dot)
odv_mark(1240, 566)
panel_letter('f)', 865, 329)

# g)
ax = odv_axes((69, 674, 402, 884), (37, 39), (1750, 0), [37, 37.5, 38, 38.5, 39],
              [0, 500, 1000, 1500], 0.25, 250, 'Salinity [PSU]', 'Depth [m]',
              vlines=[(37.5, '#333333', 0.9), (38, '#333333', 0.9), (38.5, MID, 0.9)],
              hlines=[(500, '#E2E2E2', 1.0), (1000, '#333333', 0.9), (1500, '#CFCFCF', 2.0)])
x, y = flatten(g_depths, g_salinity)
ax.scatter(x, y, **dot)
odv_mark(412, 883)
panel_letter('g)', 36, 652)

# h) T-S diagram with sigma-0 isopycnals (UNESCO 1980, p = 0)
ax = px_axes(488, 674, 816, 1093)
ax.set_xlim(36.85, 39.17)
ax.set_ylim(11.4, 30)
Sg, Tg = np.meshgrid(np.linspace(36.7, 39.3, 240), np.linspace(10.5, 31, 240))
rho_w = (999.842594 + 6.793952e-2 * Tg - 9.095290e-3 * Tg ** 2 + 1.001685e-4 * Tg ** 3
         - 1.120083e-6 * Tg ** 4 + 6.536332e-9 * Tg ** 5)
A = 8.24493e-1 - 4.0899e-3 * Tg + 7.6438e-5 * Tg ** 2 - 8.2467e-7 * Tg ** 3 + 5.3875e-9 * Tg ** 4
B = -5.72466e-3 + 1.0227e-4 * Tg - 1.6546e-6 * Tg ** 2
sigma0 = rho_w + A * Sg + B * Sg ** 1.5 + 4.8314e-4 * Sg ** 2 - 1000
cs = ax.contour(Sg, Tg, sigma0, levels=h_sigma_levels, colors='#B8B8B8', linewidths=0.8, zorder=1)
labs = ax.clabel(cs, manual=h_label_spots, fmt='%g', fontsize=8,
                 colors='#8C8C8C', inline=True, inline_spacing=3)
for t in labs:
    t.set_fontweight('bold')
pts = np.array(h_points)
ax.scatter(pts[:, 0], pts[:, 1], s=3, c='black', marker='s', linewidths=0, zorder=3)
for name, sx, ty in h_water:
    ax.text(sx, ty, name, fontsize=10, ha='left', va='center', zorder=5, **BI)
ax.text(36.9, 29.2, r'$\sigma_0$', fontsize=17, color='#8C8C8C', ha='left', va='center',
        fontweight='bold')
ax.set_xticks([37, 37.5, 38, 38.5, 39])
ax.set_xticklabels(['37', '37.5', '38', '38.5', '39'], fontsize=8.5, **BI)
ax.set_yticks([15, 20, 25, 30])
ax.set_yticklabels(['15', '20', '25', '30'], fontsize=8.5, **BI)
ax.tick_params(direction='out', length=3, width=0.8, pad=4)
ax.set_xlabel('Salinity', fontsize=7.5, labelpad=1, **BI)
ax.set_ylabel('Potential Temperature θ [degC]', fontsize=7.5, labelpad=8, **BI)
for s in ax.spines.values():
    s.set_linewidth(1.5)
    s.set_color('#222222')
odv_mark(823, 1090)
panel_letter('h)', 450, 651)

# i) yearly means with spread
T_LO, T_HI = 13.335, 15.194
ax = px_axes(888, 678, 1234, 1094)
ax.set_xlim(2009.45, 2021.55)
ax.set_ylim(T_LO, T_HI)
ax.set_axisbelow(True)
ax.fill_between(years, temp_low, temp_high, color='#56B4E9', alpha=0.18, lw=0, zorder=1)
ax.plot(years, temp_mean, color='#6DB7E8', lw=1.3, marker='o', ms=2.8, zorder=2)
tmaj = [13.5, 13.7, 13.9, 14.1, 14.3, 14.5, 14.7, 14.9, 15.1]
ax.yaxis.set_major_locator(FixedLocator(tmaj))
ax.yaxis.set_minor_locator(MultipleLocator(0.1))
ax.set_yticklabels(['%.1f' % v for v in tmaj], fontsize=9.5, fontweight='bold', color='#4D4D4D')
ax.set_xticks(years)
ax.set_xticklabels([str(y) for y in years], fontsize=7.5, fontweight='bold', color='#4D4D4D')
ax.grid(which='major', color='#D6D6D6', lw=0.9)
ax.grid(which='minor', axis='y', color='#ECECEC', lw=0.7)
ax.tick_params(which='major', direction='out', length=3, color='#7F7F7F', pad=2)
ax.tick_params(which='minor', length=0)
ax.set_xlabel('Year', fontsize=8.5, color='#333333', labelpad=4)
ax.set_ylabel('Temperature [°C]', fontsize=11.5, color='#74BDEA', labelpad=3)

ax2 = ax.twinx()
ax2.set_ylim(0.25 * T_LO + 35.275, 0.25 * T_HI + 35.275)
ax2.fill_between(years, sal_low, sal_high, color='#B22222', alpha=0.22, lw=0, zorder=1)
ax2.plot(years, sal_mean, color='#B22222', lw=1.3, marker='o', ms=2.8, zorder=2)
smaj = [38.65, 38.70, 38.75, 38.80, 38.85, 38.90, 38.95, 39.00, 39.05]
ax2.set_yticks(smaj)
ax2.set_yticklabels(['%.2f' % v for v in smaj], fontsize=9.5, fontweight='bold', color='#4D4D4D')
ax2.tick_params(direction='out', length=3, color='#7F7F7F', pad=2)
ax2.set_ylabel('Salinity', fontsize=11.5, color='#B22222', labelpad=4, rotation=90)
for a_ in (ax, ax2):
    for s in a_.spines.values():
        s.set_color('#8F8F8F')
        s.set_linewidth(1.1)
panel_letter('i)', 865, 651, bold=True)

fig.savefig('out.png', dpi=100)
